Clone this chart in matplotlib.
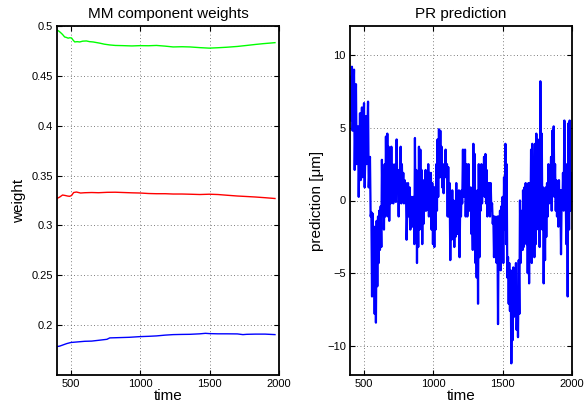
import matplotlib
matplotlib.use("Agg")
from matplotlib import pyplot as plt
import numpy as np

plt.rcParams['font.family'] = ['Liberation Sans', 'DejaVu Sans']

# MM component weights
green_t = [400, 412, 425, 440, 455, 468, 480, 492, 505, 515, 528, 545, 564, 585, 612, 635, 660, 680,
           708, 740, 780, 820, 876, 940, 997, 1060, 1117, 1180, 1237, 1300, 1358, 1430, 1470, 1497,
           1560, 1623, 1700, 1767, 1830, 1887, 1930, 1971]
green_w = [0.4960, 0.4950, 0.4935, 0.4915, 0.4890, 0.4885, 0.4878, 0.4882, 0.4880, 0.4860, 0.4840,
           0.4843, 0.4840, 0.4848, 0.4850, 0.4843, 0.4840, 0.4835, 0.4828, 0.4818, 0.4810, 0.4805,
           0.4803, 0.4800, 0.4803, 0.4802, 0.4805, 0.4798, 0.4790, 0.4792, 0.4790, 0.4783, 0.4780,
           0.4778, 0.4782, 0.4787, 0.4795, 0.4805, 0.4815, 0.4823, 0.4828, 0.4833]

red_t = [400, 420, 440, 460, 475, 490, 505, 520, 540, 570, 600, 650, 700, 760, 820, 880, 940, 1000,
         1060, 1117, 1180, 1237, 1300, 1358, 1430, 1497, 1560, 1623, 1700, 1767, 1830, 1900, 1971]
red_w = [0.3270, 0.3285, 0.3305, 0.3300, 0.3295, 0.3292, 0.3300, 0.3330, 0.3335, 0.3325, 0.3328,
         0.3330, 0.3328, 0.3332, 0.3333, 0.3330, 0.3327, 0.3325, 0.3320, 0.3318, 0.3318, 0.3315,
         0.3315, 0.3313, 0.3310, 0.3313, 0.3310, 0.3303, 0.3295, 0.3290, 0.3285, 0.3278, 0.3270]

blue_t = [400, 420, 440, 470, 500, 550, 600, 650, 700, 760, 780, 850, 920, 1000, 1060, 1117, 1180,
          1237, 1300, 1358, 1430, 1470, 1500, 1560, 1623, 1700, 1740, 1767, 1830, 1900, 1971]
blue_w = [0.1785, 0.1790, 0.1800, 0.1815, 0.1826, 0.1832, 0.1838, 0.1840, 0.1848, 0.1858, 0.1872,
          0.1875, 0.1878, 0.1885, 0.1888, 0.1892, 0.1900, 0.1905, 0.1907, 0.1908, 0.1913, 0.1918,
          0.1915, 0.1913, 0.1913, 0.1912, 0.1905, 0.1908, 0.1910, 0.1910, 0.1905]

# PR prediction: local max / min per short time window
pred_t = [400, 414, 429, 443, 458, 472, 486, 501, 515, 530,
          544, 554, 563, 573, 582, 592, 602, 611, 621, 630, 640, 650, 659, 669, 678, 688, 698,
          707, 717, 726, 736, 746, 755, 765, 774, 784, 794, 803,
          818, 830, 845, 859, 868, 878, 887, 897, 907, 916, 926, 935, 945, 955, 964, 974, 983,
          993, 1003, 1012, 1022, 1031, 1041, 1051, 1060, 1070, 1079, 1089, 1099, 1108, 1118,
          1127, 1137, 1147, 1156, 1166, 1175, 1185, 1195, 1204, 1214,
          1229, 1241, 1255, 1270, 1280, 1289, 1299, 1308, 1318, 1328, 1337, 1347, 1356, 1366,
          1376, 1385, 1395, 1404, 1414, 1424, 1433, 1443, 1452, 1462, 1472, 1481, 1491, 1500,
          1510, 1520, 1529, 1539, 1548, 1558, 1568, 1577, 1587, 1596, 1606, 1616, 1625,
          1640, 1647, 1657, 1666, 1676, 1686, 1695, 1705, 1714, 1724, 1734, 1743, 1753, 1762,
          1772, 1782, 1791, 1801, 1810, 1820, 1830, 1839, 1849, 1858, 1868, 1878, 1887, 1897,
          1906, 1916, 1926, 1935, 1945, 1954, 1964, 1974, 1983, 1993]
pred_hi = [8.5, 9.2, 9.0, 8.0, 5.1, 6.0, 6.4, 6.7, 5.8, 6.8,
           3.0, -0.8, -0.9, -1.8, -2.0, -1.4, -1.1, -0.7, -0.4, 2.8, 1.2, 2.5, 4.4, 4.6, 3.7, 2.5, 3.7,
           2.5, 2.1, 2.5, 4.2, 2.1, 1.9, 3.7, 2.5, 1.9, 1.4, 1.2,
           1.2, 0.9, 0.25, 0.25, 4.3, 2.1, 0.7, 3.7, 3.5, 2.1, 1.4, 0.9, 2.1, 1.9, 2.5, 1.9, 1.9,
           1.2, 0.9, 0.9, 2.5, 4.2, 4.9, 4.8, 3.7, 2.5, 2.3, 3.5, 2.5, 2.3, 1.2,
           0.0, 0.7, 0.0, -0.4, 1.2, 0.25, 0.7, 0.5, 0.7, 3.5,
           3.5, 2.5, 2.5, 0.9, -0.7, 3.9, 3.2, -0.2, 0.7, 2.5, 2.1, 2.5, 2.3, 3.0,
           3.2, 2.1, 1.2, 1.2, 1.2, -0.2, -1.1, -1.1, -1.6, -1.1, -1.1, -0.7, -0.4, 0.25,
           1.6, 3.9, 2.5, -3.9, -4.3, -4.8, -6.2, -4.6, -5.5, -4.3, -6.2, -4.1, 0.0,
           -0.7, 0.7, 0.9, 1.2, 0.7, 1.2, 1.2, 3.5, 3.9, 1.4, 3.9, 4.6, 4.2, 2.5,
           8.2, 4.6, 0.9, -0.2, 0.9, 1.2, 2.5, 2.1, 3.0, 4.8, 5.1, 2.5, 1.4, 0.7,
           1.4, 0.7, 0.7, 1.9, 5.5, 1.4, 2.5, 5.3, 5.5, 1.9]
pred_lo = [5.5, 4.8, 2.1, 2.5, 0.25, 1.4, 1.6, 0.9, 2.5, 0.9,
           -1.1, -6.6, -4.8, -7.8, -8.4, -5.9, -4.3, -3.4, -3.2, -0.7, -2.0, -1.1, 0.0, -1.1, -1.4,
           -0.2, 0.25, -0.2, 0.3, -0.1, 0.9, -1.1, 0.3, -0.2, 0.3, -0.2, 0.3, -2.7,
           -1.1, -2.0, -1.8, -3.0, -2.0, -4.3, -3.2, -2.0, -1.6, -3.0, -1.6, -0.7, -0.7, -0.4, -1.1,
           -0.4, -2.0, -3.0, -3.2, -2.0, -0.7, 0.25, 1.6, 1.6, 0.9, 0.5, 1.6, 1.6, -1.1, -1.1, -4.1,
           -2.7, -2.5, -3.2, -2.5, -2.3, -2.3, -3.9, -1.1, -0.2, 0.25,
           -1.1, -1.1, -0.7, -2.3, -3.4, -2.5, -4.3, -5.3, -7.1, -3.9, -0.7, -0.2, 0.7, 0.25,
           -0.2, -1.1, -0.7, -1.1, -0.7, -1.6, -3.9, -3.2, -4.3, -8.5, -4.3, -4.8, -3.9, -4.3,
           -2.0, -3.0, -5.3, -7.1, -7.6, -11.2, -9.6, -8.0, -7.8, -8.9, -9.4, -7.8, -4.3,
           -3.4, -3.2, -2.0, -3.0, -5.0, -5.7, -2.5, -4.3, -2.0, -3.9, -3.0, -0.7, -2.0, -3.2,
           0.25, -2.0, -5.7, -4.1, -2.5, -1.1, -0.2, 0.7, -0.7, 2.1, 0.25, -0.7, -1.1, -1.8,
           -1.1, -3.7, -0.4, -0.7, 0.25, -3.0, -6.6, -2.0, -0.7, -0.2]

xticks = [500, 1000, 1500, 2000]
w_yticks = [0.2, 0.25, 0.3, 0.35, 0.4, 0.45, 0.5]
w_yticklabels = ['0.2', '0.25', '0.3', '0.35', '0.4', '0.45', '0.5']
p_yticks = [-10, -5, 0, 5, 10]
p_yticklabels = ['\u221210', '\u22125', '0', '5', '10']


def style_axes(ax):
    ax.tick_params(direction='in', top=True, right=True, length=3.5, width=0.8,
                   labelsize=8, pad=3, color='black')
    ax.grid(True, linestyle=(0, (1, 3)), color='#555555', linewidth=0.6)
    for s in ax.spines.values():
        s.set_linewidth(1.3)
    ax.set_xlim(400, 2000)
    ax.set_xticks(xticks)
    ax.set_xticklabels([str(x) for x in xticks])
    ax.set_xlabel('time', fontsize=11, labelpad=0)


fig = plt.figure(figsize=(5.84, 4.07), dpi=100)

ax1 = fig.add_axes([57 / 584, 32 / 407, 222 / 584, 349 / 407])
ax1.plot(green_t, green_w, color=(0, 1, 0), lw=1.0)
ax1.plot(red_t, red_w, color=(1, 0, 0), lw=1.0)
ax1.plot(blue_t, blue_w, color=(0, 0, 1), lw=1.0)
style_axes(ax1)
ax1.set_ylim(0.15, 0.5)
ax1.set_yticks(w_yticks)
ax1.set_yticklabels(w_yticklabels)
ax1.set_ylabel('weight', fontsize=11, labelpad=4)
ax1.set_title('MM component weights', fontsize=11, pad=6)

# interleave the max / min of each window into one jagged line
half_step = 4.8
px = []
py = []
for t, hi, lo in zip(pred_t, pred_hi, pred_lo):
    px += [t, t + half_step]
    py += [hi, lo]

ax2 = fig.add_axes([350 / 584, 32 / 407, 222 / 584, 349 / 407])
ax2.plot(px, py, color=(0, 0, 1), lw=1.6)
style_axes(ax2)
ax2.set_ylim(-12, 12)
ax2.set_yticks(p_yticks)
ax2.set_yticklabels(p_yticklabels)
ax2.set_ylabel('prediction [\u03bcm]', fontsize=11, labelpad=2)
ax2.set_title('PR prediction', fontsize=11, pad=6)

fig.savefig('out.png', dpi=100)
